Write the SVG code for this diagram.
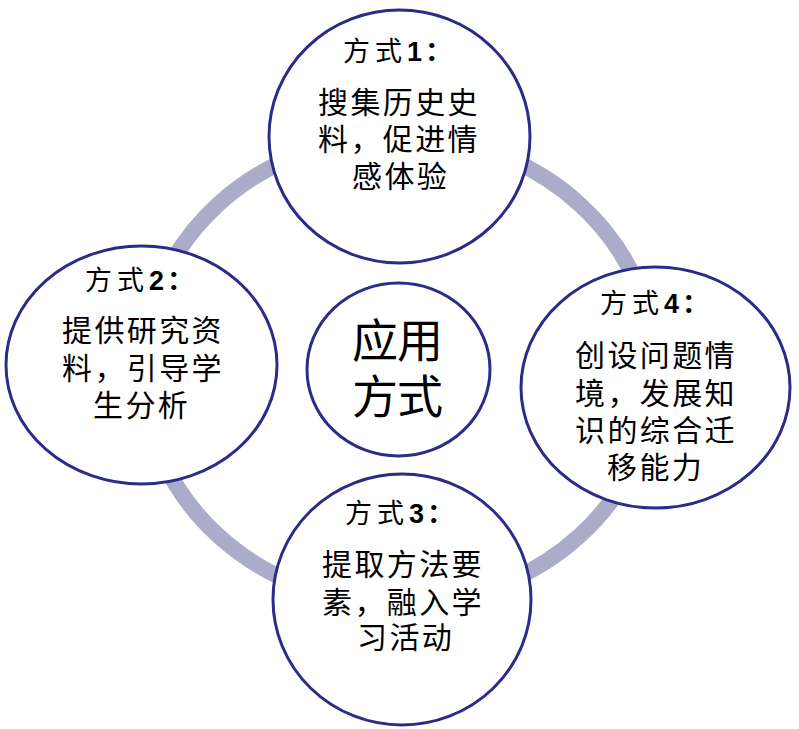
<svg xmlns="http://www.w3.org/2000/svg" width="799" height="729" viewBox="0 0 799 729">
<style>
.node{fill:#FFFFFF;stroke:#2B2B88;stroke-width:3}
.ring{fill:none;stroke:#ABABCA;stroke-width:16}
text{font-family:"Liberation Sans","Noto Sans CJK SC",sans-serif;fill:#000000}
.t{font-size:27px;letter-spacing:5px}
.b{font-size:30px;letter-spacing:2.4px}
.c{font-size:46px;letter-spacing:-1px}
.n{font-weight:bold}
.p{font-weight:bold}
</style>
<g id="connectors">
<ellipse class="ring" cx="399" cy="370" rx="256" ry="234"/>
</g>
<g id="node-1">
<ellipse class="node" cx="399.5" cy="136.5" rx="130.5" ry="126.5"/>
<text class="t" x="343" y="61">方式<tspan class="n" letter-spacing="3">1</tspan><tspan class="p">：</tspan></text>
<text class="b"><tspan x="318" y="113">搜集历史史</tspan><tspan x="318" y="150">料，促进情</tspan><tspan x="352" y="187">感体验</tspan></text>
</g>
<g id="node-2">
<ellipse class="node" cx="141.5" cy="365" rx="135.5" ry="119"/>
<text class="t" x="85" y="290">方式<tspan class="n" letter-spacing="3">2</tspan><tspan class="p">：</tspan></text>
<text class="b"><tspan x="62" y="341">提供研究资</tspan><tspan x="62" y="379">料，引导学</tspan><tspan x="93" y="416">生分析</tspan></text>
</g>
<g id="node-4">
<ellipse class="node" cx="655.5" cy="387.5" rx="134.5" ry="120.5"/>
<text class="t" x="600" y="313">方式<tspan class="n" letter-spacing="3">4</tspan><tspan class="p">：</tspan></text>
<text class="b"><tspan x="575" y="366">创设问题情</tspan><tspan x="575" y="404">境，发展知</tspan><tspan x="575" y="441">识的综合迁</tspan><tspan x="607" y="478">移能力</tspan></text>
</g>
<g id="node-3">
<ellipse class="node" cx="402" cy="599.5" rx="129" ry="125.5"/>
<text class="t" x="345" y="523">方式<tspan class="n" letter-spacing="3">3</tspan><tspan class="p">：</tspan></text>
<text class="b"><tspan x="322" y="575">提取方法要</tspan><tspan x="322" y="613">素，融入学</tspan><tspan x="357" y="648">习活动</tspan></text>
</g>
<g id="center">
<ellipse class="node" cx="398.5" cy="369.5" rx="91.5" ry="86.5"/>
<text class="c"><tspan x="352" y="357">应用</tspan><tspan x="352" y="413">方式</tspan></text>
</g>
</svg>
